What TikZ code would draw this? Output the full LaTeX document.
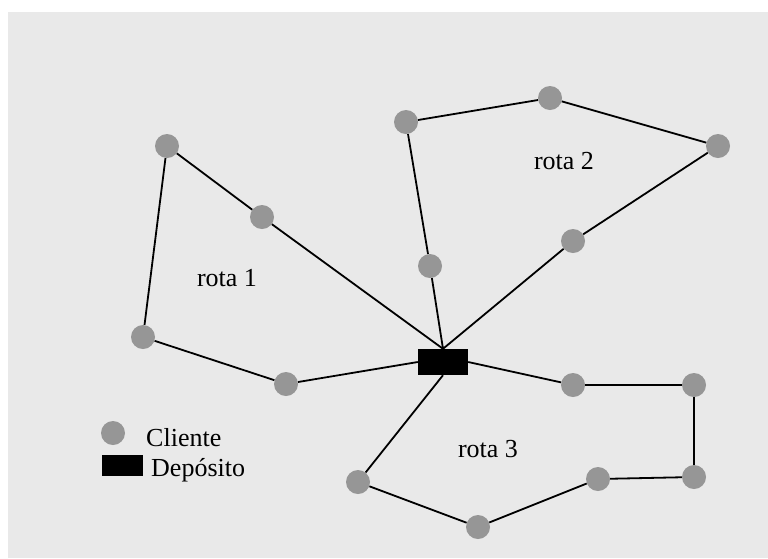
\documentclass[tikz,border=0pt]{standalone}
\usepackage{fontspec}
\setmainfont{Liberation Serif}
\definecolor{panel}{HTML}{E9E9E9}
\definecolor{client}{HTML}{969696}
\begin{document}
\begin{tikzpicture}[x=1pt,y=-1pt,
  cliente/.style={circle,fill=client,inner sep=0pt,minimum size=24pt},
  deposito/.style={rectangle,fill=black,inner sep=0pt,minimum width=50pt,minimum height=26pt},
  rota/.style={draw=black,line width=1.8pt},
  lbl/.style={font=\fontsize{26}{31}\selectfont,inner sep=0pt}]
\useasboundingbox (0,0) rectangle (768,558);
\fill[panel] (8,12) rectangle (768,558);

% depot
\node[deposito] (dep) at (443,362) {};

% route 1
\node[cliente] (a1) at (167,146) {};
\node[cliente] (a2) at (262,217) {};
\node[cliente] (a3) at (143,337) {};
\node[cliente] (a4) at (286,384) {};

% route 2
\node[cliente] (b1) at (406,122) {};
\node[cliente] (b2) at (550,98) {};
\node[cliente] (b3) at (718,146) {};
\node[cliente] (b4) at (573,241) {};
\node[cliente] (b5) at (430,266) {};

% route 3
\node[cliente] (c1) at (573,385) {};
\node[cliente] (c2) at (694,385) {};
\node[cliente] (c3) at (694,477) {};
\node[cliente] (c4) at (598,479) {};
\node[cliente] (c5) at (478,527) {};
\node[cliente] (c6) at (358,482) {};

% route connectors, leaving from the depot's sides
\draw[rota] (dep.north) -- (a2) -- (a1) -- (a3) -- (a4) -- (dep.west);
\draw[rota] (dep.north) -- (b5) -- (b1) -- (b2) -- (b3) -- (b4) -- (dep.north);
\draw[rota] (dep.east) -- (c1) -- (c2) -- (c3) -- (c4) -- (c5) -- (c6) -- (dep.south);

% route names
\node[lbl,anchor=base] (r1) at (227,286) {rota 1};
\node[lbl,anchor=base] (r2) at (564,169) {rota 2};
\node[lbl,anchor=base] (r3) at (488,457) {rota 3};

% legend
\node[cliente] (lc) at (113,433) {};
\node[deposito,minimum width=41pt,minimum height=21pt] (ld) at (122.5,465.5) {};
\node[lbl,anchor=base west] (tc) at (146,446) {Cliente};
\node[lbl,anchor=base west] (td) at (151,476) {Depósito};
\end{tikzpicture}
\end{document}
